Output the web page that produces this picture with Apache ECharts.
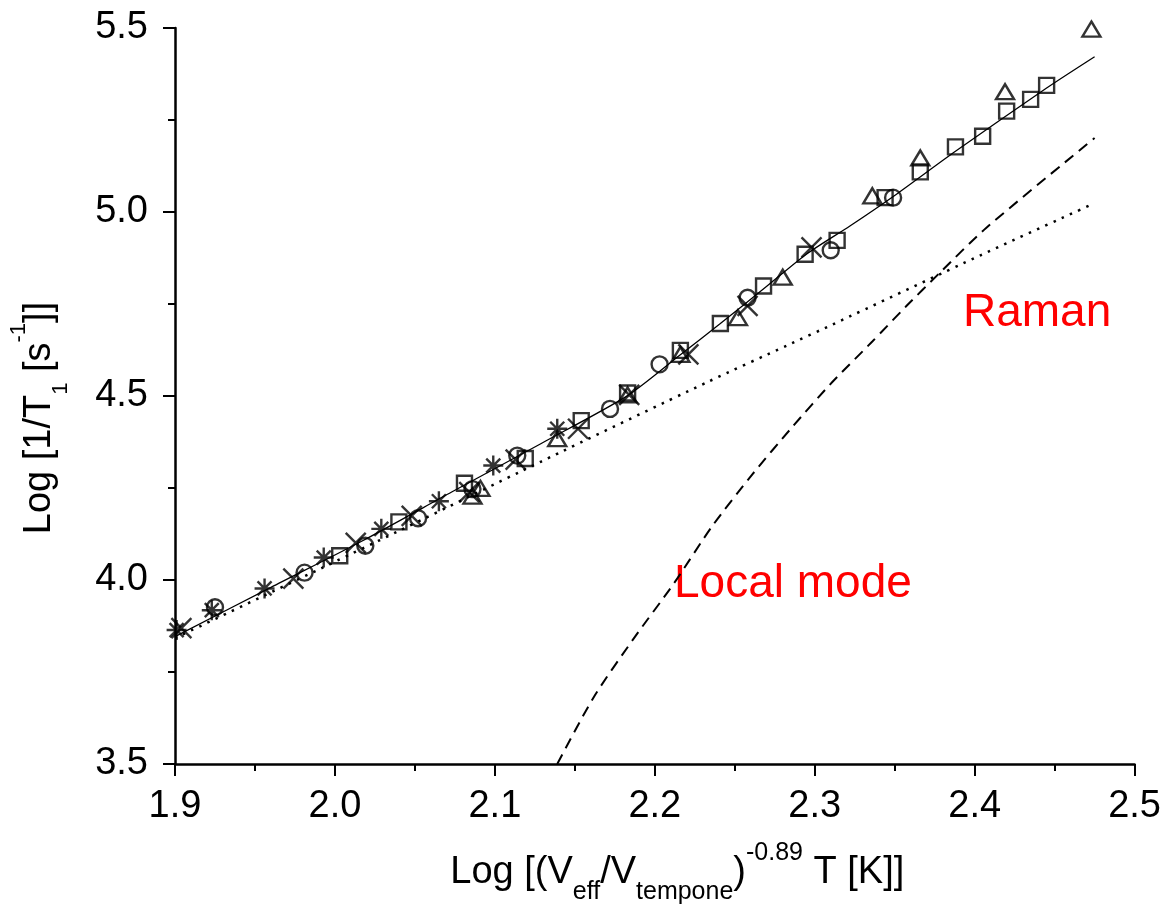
<!DOCTYPE html>
<html>
<head>
<meta charset="utf-8">
<script src="https://cdn.jsdelivr.net/npm/echarts@6/dist/echarts.min.js"></script>
<style>
  html, body { margin: 0; padding: 0; background: #fff; }
  #chart { width: 1164px; height: 910px; }
</style>
</head>
<body>
<div id="chart"></div>
<script>
  // measured points, [log T_eff, log 1/T1]
  var asteriskPts = [[1.901, 3.864], [1.923, 3.918], [1.956, 3.977], [1.993, 4.061], [2.029, 4.139],
    [2.065, 4.214], [2.099, 4.311], [2.139, 4.411]];
  var crossPts = [[1.904, 3.869], [1.974, 4.004], [2.013, 4.101], [2.048, 4.174], [2.084, 4.239],
    [2.113, 4.327], [2.152, 4.411], [2.184, 4.503], [2.221, 4.613], [2.258, 4.745], [2.298, 4.904]];
  var circlePts = [[1.925, 3.926], [1.981, 4.020], [2.019, 4.093], [2.052, 4.168], [2.086, 4.247],
    [2.114, 4.338], [2.172, 4.465], [2.203, 4.586], [2.258, 4.767], [2.310, 4.896], [2.349, 5.039]];
  var squarePts = [[2.003, 4.066], [2.040, 4.158], [2.081, 4.263], [2.119, 4.330], [2.154, 4.433],
    [2.183, 4.508], [2.216, 4.624], [2.241, 4.697], [2.268, 4.799], [2.294, 4.885], [2.314, 4.923],
    [2.344, 5.039], [2.366, 5.109], [2.388, 5.177], [2.405, 5.206], [2.420, 5.274], [2.435, 5.306],
    [2.445, 5.344]];
  var trianglePts = [[2.086, 4.228], [2.091, 4.249], [2.139, 4.384], [2.183, 4.503], [2.216, 4.613],
    [2.252, 4.713], [2.280, 4.823], [2.336, 5.044], [2.366, 5.147], [2.419, 5.327], [2.473, 5.497]];

  // fitted curves
  var fitCurve = [[1.900, 3.846], [1.960, 3.980], [2.017, 4.106], [2.073, 4.239], [2.129, 4.371],
    [2.183, 4.501], [2.216, 4.612], [2.241, 4.697], [2.270, 4.798], [2.295, 4.886], [2.322, 4.962],
    [2.350, 5.045], [2.388, 5.165], [2.445, 5.337], [2.475, 5.422]];
  var ramanCurve = [[1.900, 3.842], [2.027, 4.106], [2.129, 4.322], [2.233, 4.538], [2.283, 4.638],
    [2.311, 4.694], [2.404, 4.883], [2.473, 5.020]];
  var localModeCurve = [[2.139, 3.500], [2.162, 3.683], [2.187, 3.842], [2.212, 3.991], [2.236, 4.147],
    [2.261, 4.287], [2.286, 4.416], [2.311, 4.538], [2.336, 4.648], [2.357, 4.743], [2.378, 4.834],
    [2.407, 4.956], [2.475, 5.201]];

  var FONT = '"Liberation Sans", Arial, sans-serif';

  var markerStyle = {
    color: 'rgba(0,0,0,0)',
    borderColor: '#000',
    borderWidth: 2.4
  };

  function scatter(name, data, symbol, size) {
    return {
      name: name,
      type: 'scatter',
      data: data,
      symbol: symbol,
      symbolSize: size,
      itemStyle: markerStyle,
      silent: true,
      z: 5
    };
  }

  function curve(name, data, type, width) {
    return {
      name: name,
      type: 'line',
      data: data,
      smooth: 0.25,
      showSymbol: false,
      lineStyle: { color: '#000', width: width, type: type },
      silent: true,
      z: 3
    };
  }

  var myChart = echarts.init(document.getElementById('chart'));

  var options = {
    backgroundColor: '#fff',
    animation: false,
    grid: { left: 173, right: 28, top: 28, bottom: 140 },
    xAxis: {
      type: 'value',
      min: 1.9,
      max: 2.5,
      interval: 0.1,
      name: '{n|Log [(V}{sub|eff}{n|/V}{sub|tempone}{n|)}{sup|-0.89}{n| T [K]]}',
      nameLocation: 'middle',
      nameGap: 77,
      nameTextStyle: {
        padding: [0, 0, 0, 45],
        rich: {
          n: { fontFamily: FONT, fontSize: 38, color: '#000', lineHeight: 64, verticalAlign: 'middle' },
          sub: { fontFamily: FONT, fontSize: 25, color: '#000', lineHeight: 25, verticalAlign: 'bottom' },
          sup: { fontFamily: FONT, fontSize: 25, color: '#000', lineHeight: 35, verticalAlign: 'top' }
        }
      },
      axisLine: { onZero: false, lineStyle: { color: '#000', width: 2.5 } },
      axisTick: { length: 12, lineStyle: { color: '#000', width: 2 } },
      minorTick: { show: true, splitNumber: 2, length: 7, lineStyle: { color: '#000', width: 2 } },
      splitLine: { show: false },
      axisLabel: {
        margin: 24,
        fontFamily: FONT,
        fontSize: 38,
        color: '#000',
        formatter: function (v) { return v.toFixed(1); }
      }
    },
    yAxis: {
      type: 'value',
      min: 3.5,
      max: 5.5,
      interval: 0.5,
      name: '{n|Log [1/T}{sub|1}{n| [s}{sup|-1}{n|]]}',
      nameLocation: 'middle',
      nameGap: 103,
      nameTextStyle: {
        padding: [0, 44, 0, 0],
        rich: {
          n: { fontFamily: FONT, fontSize: 38, color: '#000', lineHeight: 64, verticalAlign: 'middle' },
          sub: { fontFamily: FONT, fontSize: 22, color: '#000', lineHeight: 26, verticalAlign: 'bottom' },
          sup: { fontFamily: FONT, fontSize: 22, color: '#000', lineHeight: 34, verticalAlign: 'top' }
        }
      },
      axisLine: { onZero: false, lineStyle: { color: '#000', width: 2.5 } },
      axisTick: { length: 12, lineStyle: { color: '#000', width: 2 } },
      minorTick: { show: true, splitNumber: 2, length: 7, lineStyle: { color: '#000', width: 2 } },
      splitLine: { show: false },
      axisLabel: {
        margin: 27,
        fontFamily: FONT,
        fontSize: 38,
        color: '#000',
        formatter: function (v) { return v.toFixed(1); }
      }
    },
    graphic: [
      {
        type: 'text', left: 963, top: 290,
        style: { text: 'Raman', fill: '#ff0000', font: '46px "Liberation Sans", Arial, sans-serif' }
      },
      {
        type: 'text', left: 674, top: 561,
        style: { text: 'Local mode', fill: '#ff0000', font: '46px "Liberation Sans", Arial, sans-serif' }
      }
    ],
    series: [
      curve('Fit', fitCurve, 'solid', 1.3),
      curve('Raman', ramanCurve, [2.5, 6.5], 2.5),
      curve('Local mode', localModeCurve, [11, 7], 2),
      scatter('squares', squarePts, 'rect', 15),
      scatter('circles', circlePts, 'circle', 16),
      scatter('triangles', trianglePts, 'triangle', [18, 15]),
      scatter('crosses', crossPts, 'path://M0 0L10 10M10 0L0 10', 20),
      scatter('asterisks', asteriskPts, 'path://M5 0L5 10M0 5L10 5M1.5 1.5L8.5 8.5M8.5 1.5L1.5 8.5', 20)
    ]
  };

  myChart.setOption(options);
</script>
</body>
</html>
